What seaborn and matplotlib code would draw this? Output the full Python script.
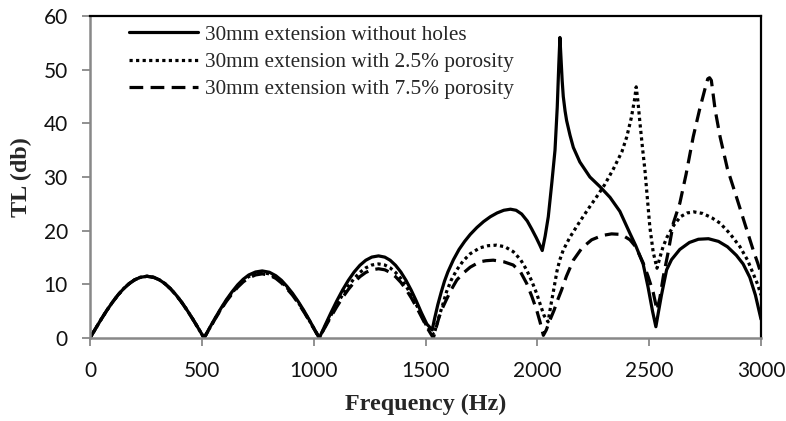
import matplotlib
matplotlib.use("Agg")
import matplotlib.pyplot as plt
import seaborn as sns
import pandas as pd

# ---- data ----
freq_arch1 = [0, 25, 50, 75, 100, 125, 150, 175, 200, 225, 255, 285, 310, 335,
              360, 385, 410, 435, 460, 485]
tl_arch1 = [0, 1.76, 3.49, 5.13, 6.64, 8.01, 9.18, 10.13, 10.85, 11.31, 11.5, 11.3,
            10.84, 10.13, 9.17, 8.01, 6.65, 5.13, 3.49, 1.77]

freq_arch2 = [510, 535, 560, 585, 610, 635, 660, 685, 710, 740, 770, 802, 831, 856,
              880, 905, 930, 955, 980, 1005]
tl_arch2_solid = [0, 1.9, 3.75, 5.5, 7.15, 8.6, 9.9, 10.95, 11.75, 12.3, 12.5, 12.25,
                  11.6, 10.75, 9.65, 8.35, 6.85, 5.2, 3.4, 1.5]
tl_arch2_dot = [0, 1.85, 3.65, 5.4, 7.0, 8.4, 9.65, 10.7, 11.45, 12.0, 12.2, 11.95,
                11.3, 10.5, 9.4, 8.15, 6.7, 5.05, 3.3, 1.5]
tl_arch2_dash = [0, 1.8, 3.6, 5.25, 6.85, 8.2, 9.45, 10.45, 11.2, 11.75, 11.95, 11.7,
                 11.1, 10.25, 9.2, 8.0, 6.55, 4.95, 3.25, 1.45]

freq_arch3 = [1025, 1051, 1077, 1103, 1129, 1155, 1181, 1207, 1233, 1260, 1290, 1318,
              1342, 1366, 1390, 1413, 1436, 1459, 1482, 1506]
tl_arch3_solid = [0, 2.37, 4.68, 6.88, 8.92, 10.74, 12.3, 13.56, 14.49, 15.08, 15.3,
                  15.07, 14.49, 13.55, 12.28, 10.73, 8.92, 6.88, 4.68, 2.6]
tl_arch3_dot = [0, 2.14, 4.22, 6.21, 8.04, 9.68, 11.09, 12.23, 13.07, 13.6, 13.8, 13.6,
                13.07, 12.22, 11.08, 9.68, 8.04, 6.21, 4.22, 2.14]
tl_arch3_dash = [0.1, 2.0, 3.95, 5.8, 7.52, 9.05, 10.37, 11.43, 12.22, 12.71, 12.9, 12.71,
                 12.22, 11.43, 10.36, 9.05, 7.52, 5.8, 3.95, 2.0]

freq_hi_solid = [1530, 1540, 1555, 1570, 1585, 1600, 1625, 1650, 1675, 1700, 1730, 1760,
                 1790, 1820, 1850, 1880, 1905, 1930, 1955, 1975, 1995, 2010, 2022,
                 2035, 2049, 2065, 2079, 2089, 2096, 2101, 2106, 2111, 2116, 2124, 2131,
                 2146, 2161, 2190, 2235, 2280, 2325, 2369, 2414, 2440, 2473, 2495, 2515,
                 2530, 2540, 2555, 2578, 2600, 2637, 2680, 2720, 2765, 2810, 2850, 2890,
                 2920, 2950, 2975, 3000]
tl_hi_solid = [1.5, 3.5, 6.2, 8.5, 10.6, 12.3, 14.6, 16.5, 18.0, 19.3, 20.6, 21.7,
               22.6, 23.3, 23.8, 24.0, 23.8, 23.1, 21.8, 20.3, 18.7, 17.4, 16.3,
               19.0, 22.6, 29.0, 35.0, 43.0, 51.0, 56.0, 52.0, 48.0, 45.0, 42.3, 40.5,
               37.8, 35.5, 32.8, 30.0, 28.2, 26.2, 23.6, 19.5, 17.2, 13.8, 9.5, 5.0,
               2.1, 4.5, 8.0, 12.7, 14.6, 16.5, 17.8, 18.4, 18.5, 18.0, 17.0, 15.4,
               13.8, 11.3, 8.0, 3.5]

freq_hi_dot = [1538, 1550, 1565, 1580, 1594, 1615, 1640, 1669, 1700, 1743, 1780, 1818,
               1855, 1892, 1925, 1952, 1975, 1997, 2015, 2030, 2048, 2060, 2071, 2088,
               2100, 2116, 2146, 2190, 2230, 2265, 2300, 2340, 2378, 2400, 2420, 2435,
               2442, 2450, 2459, 2470, 2481, 2492, 2503, 2518, 2535, 2548, 2562, 2580,
               2610, 2640, 2670, 2700, 2740, 2780, 2817, 2860, 2906, 2940, 2965, 2985, 3000]
tl_hi_dot = [0.6, 2.5, 4.6, 6.6, 8.6, 10.8, 12.7, 14.4, 15.7, 16.8, 17.2, 17.3,
             17.0, 16.1, 14.6, 12.7, 10.6, 8.3, 6.0, 4.2, 3.0, 6.0, 8.5, 12.5,
             14.5, 16.4, 18.8, 21.7, 24.2, 26.3, 28.5, 31.5, 34.7, 37.5, 41.0, 44.5,
             46.8, 44.0, 40.0, 35.5, 31.3, 26.0, 20.7, 16.0, 13.0, 15.0, 17.0, 18.8,
             21.0, 22.6, 23.3, 23.5, 23.2, 22.4, 21.4, 19.5, 17.0, 14.5, 12.0, 10.0, 8.0]

freq_hi_dash = [1535, 1548, 1560, 1575, 1594, 1615, 1640, 1669, 1700, 1743, 1770, 1803,
                1850, 1892, 1925, 1952, 1975, 1997, 2012, 2027, 2040, 2055, 2075, 2090,
                2108, 2130, 2161, 2200, 2243, 2290, 2332, 2375, 2414, 2440, 2473, 2495,
                2518, 2535, 2548, 2563, 2585, 2608, 2637, 2665, 2697, 2725, 2750, 2762,
                2770, 2778, 2795, 2817, 2850, 2890, 2930, 2965, 2985, 3000]
tl_hi_dash = [0.0, 2.0, 3.8, 5.5, 7.2, 9.0, 10.8, 12.1, 13.2, 14.2, 14.4, 14.5,
              14.2, 13.6, 12.3, 10.2, 7.8, 5.2, 3.0, 0.5, 1.5, 3.2, 5.2, 7.0,
              8.9, 11.5, 14.5, 16.8, 18.3, 19.1, 19.4, 19.3, 18.3, 17.0, 14.0, 11.5,
              8.5, 5.2, 7.5, 11.4, 16.0, 21.4, 25.1, 30.5, 37.5, 42.5, 46.5, 48.3,
              48.5, 48.0, 42.5, 37.5, 31.5, 26.3, 21.0, 16.4, 14.0, 12.0]

labels = ["30mm extension without holes",
          "30mm extension with 2.5% porosity",
          "30mm extension with 7.5% porosity"]
x_ticks = [0, 500, 1000, 1500, 2000, 2500, 3000]
y_ticks = [0, 10, 20, 30, 40, 50, 60]

# assemble full series
freq_solid = freq_arch1 + freq_arch2 + freq_arch3 + freq_hi_solid
tl_solid = tl_arch1 + tl_arch2_solid + tl_arch3_solid + tl_hi_solid
freq_dot = freq_arch1 + freq_arch2 + freq_arch3 + freq_hi_dot
tl_dot = tl_arch1 + tl_arch2_dot + tl_arch3_dot + tl_hi_dot
freq_dash = freq_arch1 + freq_arch2 + freq_arch3 + freq_hi_dash
tl_dash = tl_arch1 + tl_arch2_dash + tl_arch3_dash + tl_hi_dash

# ---- styling ----
sns.set_theme(style="white")
plt.rcParams["font.family"] = ["Lato", "DejaVu Sans"]

fig = plt.figure(figsize=(7.86, 4.21), dpi=100)
ax = fig.add_axes([90 / 786, 1 - 338 / 421, (761 - 90) / 786, (338 - 16) / 421])

lw = 2.3
series = [
    (freq_solid, tl_solid, labels[0], "-"),
    (freq_dot, tl_dot, labels[1], (0, (1, 1.05))),
    (freq_dash, tl_dash, labels[2], (0, (4.3, 2.3))),
]
for fx, fy, lab, ls in series:
    df = pd.DataFrame({"f": fx, "tl": fy})
    sns.lineplot(data=df, x="f", y="tl", ax=ax, color="black", linewidth=lw,
                 linestyle=ls, label=lab, estimator=None, sort=False)

ax.set_xlim(0, 3000)
ax.set_ylim(0, 60)
ax.set_xticks(x_ticks)
ax.set_yticks(y_ticks)
ax.set_xticklabels([str(t) for t in x_ticks], fontsize=15)
ax.set_yticklabels([str(t) for t in y_ticks], fontsize=15)

gray = "#888888"
for side in ["left", "bottom"]:
    ax.spines[side].set_color(gray)
    ax.spines[side].set_linewidth(1.8)
for side in ["top", "right"]:
    ax.spines[side].set_color("black")
    ax.spines[side].set_linewidth(1.6)
ax.tick_params(axis="both", which="major", direction="out", length=5.5, width=1.3,
               color=gray, labelcolor="#111111")
ax.tick_params(axis="x", bottom=True, pad=11)
ax.tick_params(axis="y", left=True, pad=10.5)

ax.set_xlabel("Frequency (Hz)", fontsize=17.4, fontweight="bold",
              family=["Liberation Serif"], labelpad=9)
ax.set_ylabel("TL (db)", fontsize=17.4, fontweight="bold",
              family=["Liberation Serif"], labelpad=8)

leg = ax.legend(loc="upper left", frameon=False,
                prop={"family": "Liberation Serif", "size": 15.3},
                handlelength=3.25, handletextpad=0.33, labelspacing=0.35,
                borderaxespad=0.0, bbox_to_anchor=(0.046, 0.999))

fig.savefig("out.png", dpi=100)
